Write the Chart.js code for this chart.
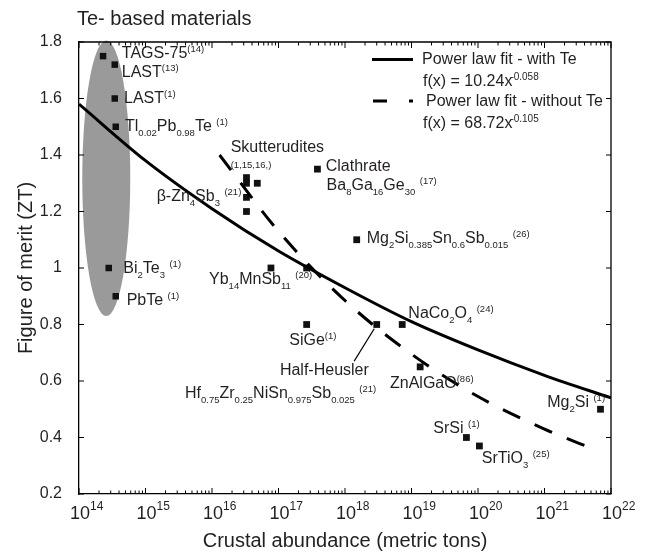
<!DOCTYPE html>
<html>
<head>
<meta charset="utf-8">
<title>Te- based materials</title>
<script src="https://cdn.jsdelivr.net/npm/chart.js@4.4.1/dist/chart.umd.min.js"></script>
<style>
  body { margin: 0; background: #fff; }
  canvas { display: block; }
</style>
</head>
<body>
<canvas id="chart" width="647" height="555"></canvas>
<script>
// Te-based materials (inside the grey ellipse)
const teX = [2.3e14, 3.45e14, 3.45e14, 3.57e14, 2.8e14, 3.57e14]
const teY = [1.75, 1.72, 1.60, 1.50, 1.00, 0.90]

// all the other materials
const otherX = [3.3e16, 3.3e16, 4.8e16, 3.3e16, 3.3e16, 3.85e17, 1.5e18, 7.7e16, 2.65e17, 2.65e17, 3.0e18, 7.25e18, 1.35e19, 6.7e19, 1.05e20, 6.95e21]
const otherY = [1.32, 1.30, 1.30, 1.25, 1.20, 1.35, 1.10, 1.00, 1.00, 0.80, 0.80, 0.80, 0.65, 0.40, 0.37, 0.50]

// power law fit - with Te (solid)
const fitTeX = [1e14, 1e15, 1e16, 1e17, 1e18, 1e19, 1e20, 1e21, 1e22]
const fitTeY = [1.58, 1.38, 1.21, 1.06, 0.93, 0.81, 0.71, 0.62, 0.54]

// power law fit - without Te (dashed)
const fitNoTeX = [1.3e16, 1e17, 1e18, 1e19, 1e20, 1e21, 6e21]
const fitNoTeY = [1.40, 1.13, 0.885, 0.695, 0.545, 0.43, 0.355]

// pointer from the Half-Heusler label to its point
const leaderX = [1.37e18, 2.75e18]
const leaderY = [0.67, 0.785]

// grey zone round the Te group
const teZone = { xMin: 1.12e14, xMax: 5.9e14, yMin: 0.83, yMax: 1.805 }

const xTickExponents = [14, 15, 16, 17, 18, 19, 20, 21, 22]
const yTicks = [0.2, 0.4, 0.6, 0.8, 1.0, 1.2, 1.4, 1.6, 1.8]
const yTickLabels = ['0.2', '0.4', '0.6', '0.8', '1', '1.2', '1.4', '1.6', '1.8']

// point labels: _{} subscript, ^{} superscript, anchored in data units
const pointLabels = [
    { x: 4.4e14, y: 1.742, text: 'TAGS-75^{(14)}' },
    { x: 4.4e14, y: 1.677, text: 'LAST^{(13)}' },
    { x: 4.75e14, y: 1.583, text: 'LAST^{(1)}' },
    { x: 4.92e14, y: 1.485, text: 'Tl_{0.02}Pb_{0.98}Te ^{(1)}' },
    { x: 1.91e16, y: 1.412, text: 'Skutterudites' },
    { x: 1.91e16, y: 1.333, text: '^{(1,15,16,)}' },
    { x: 5.13e17, y: 1.344, text: 'Clathrate' },
    { x: 5.29e17, y: 1.276, text: 'Ba_{8}Ga_{16}Ge_{30} ^{(17)}' },
    { x: 1.47e15, y: 1.238, text: 'β-Zn_{4}Sb_{3} ^{(21)}' },
    { x: 2.12e18, y: 1.090, text: 'Mg_{2}Si_{0.385}Sn_{0.6}Sb_{0.015} ^{(26)}' },
    { x: 4.64e14, y: 0.983, text: 'Bi_{2}Te_{3} ^{(1)}' },
    { x: 5.21e14, y: 0.869, text: 'PbTe ^{(1)}' },
    { x: 9.02e15, y: 0.943, text: 'Yb_{14}MnSb_{11} ^{(20)}' },
    { x: 1.45e17, y: 0.727, text: 'SiGe^{(1)}' },
    { x: 1.05e17, y: 0.621, text: 'Half-Heusler' },
    { x: 3.93e15, y: 0.539, text: 'Hf_{0.75}Zr_{0.25}NiSn_{0.975}Sb_{0.025} ^{(21)}' },
    { x: 8.96e18, y: 0.822, text: 'NaCo_{2}O_{4} ^{(24)}' },
    { x: 4.75e18, y: 0.574, text: 'ZnAlGaO^{(86)}' },
    { x: 2.13e19, y: 0.415, text: 'SrSi ^{(1)}' },
    { x: 1.14e20, y: 0.309, text: 'SrTiO_{3} ^{(25)}' },
    { x: 1.10e21, y: 0.509, text: 'Mg_{2}Si ^{(1)}' }
]

const FONT = '"Liberation Sans", Arial, sans-serif'
const INK = '#231f20'

function parseRich(str) {
    const parts = []
    const re = /([_^])\{([^}]*)\}|([^_^]+)/g
    let m
    while ((m = re.exec(str))) {
        if (m[3]) parts.push({ t: m[3], k: 'n' })
        else parts.push({ t: m[2], k: m[1] === '_' ? 'sub' : 'sup' })
    }
    return parts
}

function drawRich(ctx, str, x, y, size, small, supShift = 0) {
    parseRich(str).forEach((p) => {
        const fs = p.k === 'n' ? size : small
        const dy = p.k === 'sub' ? 5 : p.k === 'sup' ? -6 : 0
        if (p.k === 'sup') x += supShift
        ctx.font = fs + 'px ' + FONT
        ctx.fillText(p.t, x, y + dy)
        x += ctx.measureText(p.t).width
    })
}

const decor = {
    id: 'decor',
    beforeDatasetsDraw(chart) {
        const { ctx, scales: { x, y } } = chart
        const x0 = x.getPixelForValue(teZone.xMin), x1 = x.getPixelForValue(teZone.xMax)
        const y0 = y.getPixelForValue(teZone.yMax), y1 = y.getPixelForValue(teZone.yMin)
        ctx.save()
        ctx.fillStyle = '#9a9a9a'
        ctx.beginPath()
        ctx.ellipse((x0 + x1) / 2, (y0 + y1) / 2, (x1 - x0) / 2, (y1 - y0) / 2, 0, 0, Math.PI * 2)
        ctx.fill()
        ctx.restore()
    },
    afterDraw(chart) {
        const { ctx, chartArea: a, scales: { x, y } } = chart
        ctx.save()
        ctx.strokeStyle = '#000'
        ctx.lineWidth = 1.3
        // top and right edges of the frame
        ctx.beginPath()
        ctx.moveTo(a.left, a.top); ctx.lineTo(a.right, a.top); ctx.lineTo(a.right, a.bottom)
        ctx.stroke()

        // inward ticks
        ctx.lineWidth = 1
        ctx.beginPath()
        xTickExponents.forEach((e) => {
            for (let m = 1; m <= 9; m++) {
                if (e === 22 && m > 1) break
                const px = x.getPixelForValue(m * Math.pow(10, e))
                const len = m === 1 ? 6 : 3.5
                ctx.moveTo(px, a.bottom); ctx.lineTo(px, a.bottom - len)
                ctx.moveTo(px, a.top); ctx.lineTo(px, a.top + len)
            }
        })
        yTicks.forEach((v) => {
            const py = y.getPixelForValue(v)
            ctx.moveTo(a.left, py); ctx.lineTo(a.left + 5, py)
            ctx.moveTo(a.right, py); ctx.lineTo(a.right - 5, py)
        })
        ctx.stroke()

        ctx.fillStyle = INK
        ctx.textBaseline = 'alphabetic'

        // x tick labels 10^n
        xTickExponents.forEach((e) => {
            const px = x.getPixelForValue(Math.pow(10, e))
            ctx.font = '18px ' + FONT
            const w = ctx.measureText('10').width
            ctx.fillText('10', px + 1 - w / 2, a.bottom + 25)
            ctx.font = '12px ' + FONT
            ctx.fillText(String(e), px + 1 + w / 2, a.bottom + 16)
        })

        // title
        ctx.font = '20px ' + FONT
        ctx.fillText('Te- based materials', 77, 25)

        // point labels
        pointLabels.forEach((l) => {
            drawRich(ctx, l.text, x.getPixelForValue(l.x), y.getPixelForValue(l.y), 16, 9.5)
        })

        // legend
        const lx = a.right - 239
        ctx.strokeStyle = '#000'
        ctx.lineWidth = 3
        ctx.beginPath()
        ctx.moveTo(lx, 59.5); ctx.lineTo(lx + 41, 59.5)
        ctx.stroke()
        ctx.setLineDash([14, 22])
        ctx.beginPath()
        ctx.moveTo(lx + 1, 101); ctx.lineTo(lx + 41, 101)
        ctx.stroke()
        ctx.setLineDash([])
        drawRich(ctx, 'Power law fit - with Te', lx + 50, 64, 16, 10)
        drawRich(ctx, 'f(x) = 10.24x^{-0.058}', lx + 51, 85.5, 16, 10, -2)
        drawRich(ctx, 'Power law fit - without Te', lx + 54, 106, 16, 10)
        drawRich(ctx, 'f(x) = 68.72x^{-0.105}', lx + 51, 127.5, 16, 10, -2)
        ctx.restore()
    }
}

const pts = (xs, ys) => xs.map((v, i) => ({ x: v, y: ys[i] }))

new Chart(document.getElementById('chart'), {
    type: 'scatter',
    data: {
        datasets: [
            {
                label: 'Power law fit - with Te', data: pts(fitTeX, fitTeY), showLine: true,
                borderColor: '#000', borderWidth: 3, pointRadius: 0, cubicInterpolationMode: 'monotone', order: 0
            },
            {
                label: 'Power law fit - without Te', data: pts(fitNoTeX, fitNoTeY), showLine: true,
                borderColor: '#000', borderWidth: 3, borderDash: [19, 16], pointRadius: 0,
                cubicInterpolationMode: 'monotone', order: 0
            },
            {
                label: 'leader', data: pts(leaderX, leaderY), showLine: true,
                borderColor: '#000', borderWidth: 1.3, pointRadius: 0, order: 0
            },
            {
                label: 'Te-based', data: pts(teX, teY), pointStyle: 'rect', pointRadius: 4.6,
                backgroundColor: '#111', borderWidth: 0, order: 1
            },
            {
                label: 'Other', data: pts(otherX, otherY), pointStyle: 'rect', pointRadius: 4.8,
                backgroundColor: '#111', borderWidth: 0, order: 1
            }
        ]
    },
    options: {
        responsive: false,
        animation: false,
        devicePixelRatio: 1,
        layout: { padding: { top: 42, right: 36, left: 0, bottom: 0 } },
        plugins: { legend: { display: false }, tooltip: { enabled: false } },
        scales: {
            x: {
                type: 'logarithmic', min: 1e14, max: 1e22,
                grid: { display: false },
                border: { display: true, color: '#000', width: 1.3 },
                ticks: { display: false },
                title: {
                    display: true, text: 'Crustal abundance (metric tons)', color: INK,
                    font: { family: FONT, size: 20 }, padding: { top: 0, bottom: 2 }
                },
                afterFit(scale) { scale.height = 61 }
            },
            y: {
                min: 0.2, max: 1.8,
                grid: { display: false },
                border: { display: true, color: '#000', width: 1.3 },
                afterBuildTicks(scale) { scale.ticks = yTicks.map((v) => ({ value: v })) },
                ticks: {
                    color: INK, padding: 9, font: { family: FONT, size: 16 },
                    callback: (v, i) => yTickLabels[i]
                },
                title: {
                    display: true, text: 'Figure of merit (ZT)', color: INK,
                    font: { family: FONT, size: 20 }, padding: { top: 14, bottom: 0 }
                },
                afterFit(scale) { scale.width = 79 }
            }
        }
    },
    plugins: [decor]
})
</script>
</body>
</html>
